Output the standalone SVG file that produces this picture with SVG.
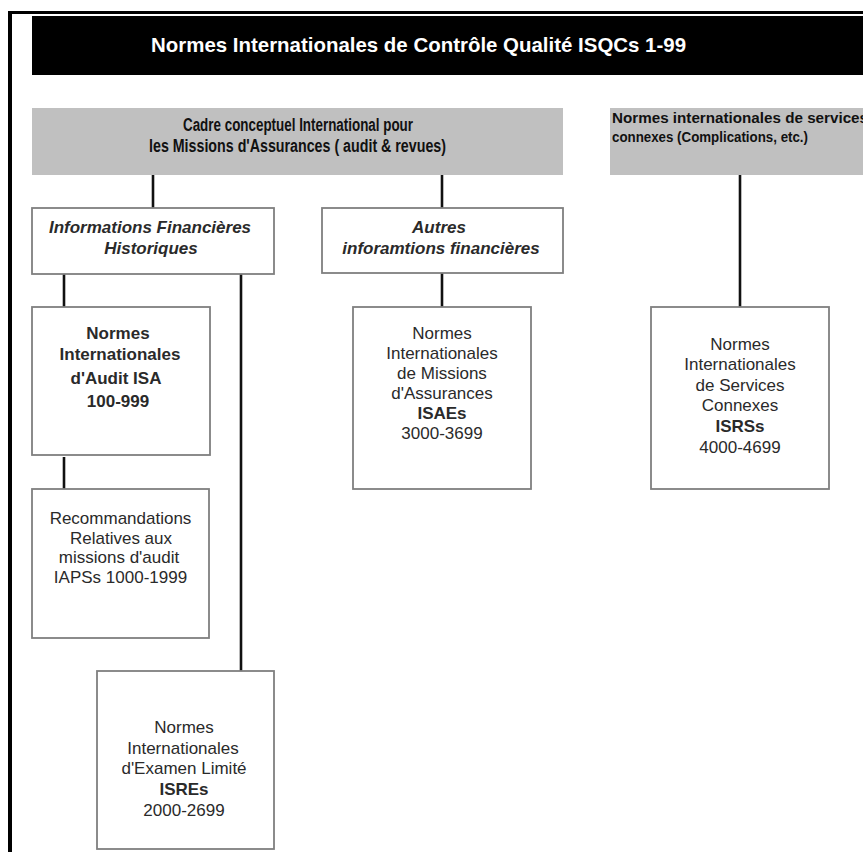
<svg xmlns="http://www.w3.org/2000/svg" width="863" height="852" viewBox="0 0 863 852">
  <style>
    .frame { stroke: #000; fill: none; }
    .box { fill: #fff; stroke: #7f7f7f; stroke-width: 1.8; }
    .band { fill: #c0c0c0; }
    .wire { stroke: #111; stroke-width: 2.6; fill: none; }
    text { font-family: "Liberation Sans", Arial, sans-serif; fill: #2a2a2a; }
    .t { font-size: 17px; text-anchor: middle; }
    .b { font-weight: bold; }
    .bi { font-weight: bold; font-style: italic; }
    .hd { font-weight: bold; fill: #111; }
  </style>

  <rect width="863" height="852" fill="#fff"/>

  <!-- outer frame -->
  <line class="frame" x1="10" y1="11" x2="10" y2="852" stroke-width="4"/>
  <line class="frame" x1="8" y1="12.5" x2="863" y2="12.5" stroke-width="3"/>

  <!-- title banner -->
  <g id="title">
    <rect x="32" y="16" width="831" height="59" fill="#000"/>
    <text x="151" y="52" font-size="21" font-weight="bold" style="fill:#fff" textLength="535" lengthAdjust="spacingAndGlyphs">Normes Internationales de Contrôle Qualité ISQCs 1-99</text>
  </g>

  <!-- connectors -->
  <g id="connectors">
    <line class="wire" x1="153" y1="175" x2="153" y2="208"/>
    <line class="wire" x1="442" y1="175" x2="442" y2="208"/>
    <line class="wire" x1="740" y1="175" x2="740" y2="307"/>
    <line class="wire" x1="64" y1="274" x2="64" y2="307"/>
    <line class="wire" x1="241" y1="274" x2="241" y2="671"/>
    <line class="wire" x1="442" y1="273" x2="442" y2="307"/>
    <line class="wire" x1="64" y1="457" x2="64" y2="489"/>
  </g>

  <g id="cadre">
    <rect class="band" x="32" y="108" width="531" height="67"/>
    <text class="hd" x="183" y="131" font-size="18" textLength="230" lengthAdjust="spacingAndGlyphs">Cadre conceptuel International pour</text>
    <text class="hd" x="149" y="152" font-size="18" textLength="297" lengthAdjust="spacingAndGlyphs">les Missions d'Assurances ( audit &amp;  revues)</text>
  </g>

  <g id="services-connexes">
    <rect class="band" x="610" y="108" width="253" height="67"/>
    <text class="hd" x="612" y="123" font-size="15" textLength="256" lengthAdjust="spacingAndGlyphs">Normes internationales de services</text>
    <text class="hd" x="612" y="142" font-size="15" textLength="196" lengthAdjust="spacingAndGlyphs">connexes (Complications, etc.)</text>
  </g>

  <g id="info-historiques">
    <rect class="box" x="32" y="208" width="242" height="66"/>
    <text class="t bi" x="150" y="233">Informations Financières</text>
    <text class="t bi" x="151" y="254">Historiques</text>
  </g>

  <g id="autres-infos">
    <rect class="box" x="322" y="208" width="241" height="65"/>
    <text class="t bi" x="439" y="233">Autres</text>
    <text class="t bi" x="441" y="254">inforamtions financières</text>
  </g>

  <g id="isa">
    <rect class="box" x="32" y="307" width="178" height="148"/>
    <text class="t b" x="118" y="339">Normes</text>
    <text class="t b" x="120" y="360">Internationales</text>
    <text class="t b" x="116" y="384">d'Audit ISA</text>
    <text class="t b" x="118" y="407">100-999</text>
  </g>

  <g id="iaps">
    <rect class="box" x="32" y="489" width="177" height="149"/>
    <text class="t" x="120.5" y="524">Recommandations</text>
    <text class="t" x="121" y="544">Relatives aux</text>
    <text class="t" x="119" y="563">missions d'audit</text>
    <text class="t" x="120.5" y="583">IAPSs 1000-1999</text>
  </g>

  <g id="isre">
    <rect class="box" x="97" y="671" width="177" height="178"/>
    <text class="t" x="184" y="733">Normes</text>
    <text class="t" x="183" y="754">Internationales</text>
    <text class="t" x="184" y="774">d'Examen Limité</text>
    <text class="t b" x="184" y="795">ISREs</text>
    <text class="t" x="184" y="816">2000-2699</text>
  </g>

  <g id="isae">
    <rect class="box" x="353" y="307" width="178" height="182"/>
    <text class="t" x="442" y="339">Normes</text>
    <text class="t" x="442" y="359">Internationales</text>
    <text class="t" x="442" y="379">de Missions</text>
    <text class="t" x="442" y="399">d'Assurances</text>
    <text class="t b" x="442" y="419">ISAEs</text>
    <text class="t" x="442" y="439">3000-3699</text>
  </g>

  <g id="isrs">
    <rect class="box" x="651" y="307" width="178" height="182"/>
    <text class="t" x="740" y="350">Normes</text>
    <text class="t" x="740" y="370">Internationales</text>
    <text class="t" x="740" y="391">de Services</text>
    <text class="t" x="740" y="411">Connexes</text>
    <text class="t b" x="740" y="432">ISRSs</text>
    <text class="t" x="740" y="453">4000-4699</text>
  </g>
</svg>
